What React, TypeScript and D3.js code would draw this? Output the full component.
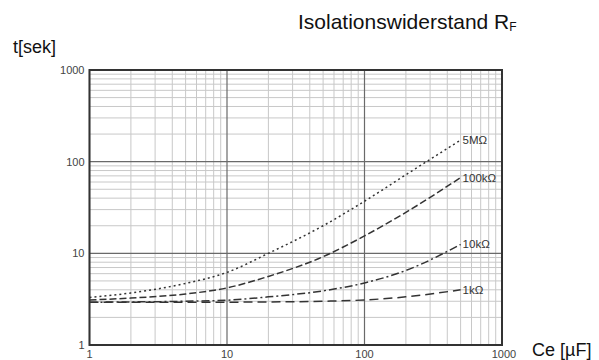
import React from "react";
import * as d3 from "d3";

const capacitance = [1, 2, 5, 10, 20, 50, 100, 200, 500];
const series5M = [3.3, 3.7, 4.7, 6.2, 10, 20, 37, 72, 172];
const series100k = [3.1, 3.25, 3.6, 4.2, 5.6, 9.2, 15.5, 28, 67];
const series10k = [2.93, 2.95, 3.0, 3.08, 3.35, 3.9, 4.75, 6.5, 12.5];
const series1k = [2.93, 2.92, 2.92, 2.93, 2.95, 3.0, 3.1, 3.35, 4.0];
const seriesLabels = ["5MΩ", "100kΩ", "10kΩ", "1kΩ"];
const tickValues = [1, 10, 100, 1000];

const W = 599;
const H = 360;
const left = 89.5;
const right = 502;
const top = 70;
const bottom = 345;

export default function App() {
  const x = d3.scaleLog().domain([1, 1000]).range([left, right]);
  const y = d3.scaleLog().domain([1, 1000]).range([bottom, top]);

  const minors: number[] = [];
  for (let d = 1; d < 1000; d *= 10) {
    for (let k = 2; k <= 9; k++) minors.push(d * k);
  }

  const series = [series5M, series100k, series10k, series1k];
  const dashes = ["2,3", "7,3", "8,3,2,3", "9,5"];

  const line = d3
    .line<[number, number]>()
    .x((d) => x(d[0]))
    .y((d) => y(d[1]))
    .curve(d3.curveMonotoneX);

  const font = "Arial, 'Liberation Sans', sans-serif";

  return (
    <svg
      width={W}
      height={H}
      style={{ position: "absolute", left: 0, top: 0, background: "#fff" }}
      fontFamily={font}
    >
      {minors.map((v) => (
        <g key={"m" + v}>
          <line x1={x(v)} x2={x(v)} y1={top} y2={bottom} stroke="#c8c8c8" strokeWidth={1} />
          <line x1={left} x2={right} y1={y(v)} y2={y(v)} stroke="#c8c8c8" strokeWidth={1} />
        </g>
      ))}
      {tickValues.map((v) => (
        <g key={"M" + v}>
          <line x1={x(v)} x2={x(v)} y1={top} y2={bottom} stroke="#6a6a6a" strokeWidth={1.2} />
          <line x1={left} x2={right} y1={y(v)} y2={y(v)} stroke="#6a6a6a" strokeWidth={1.2} />
        </g>
      ))}
      <rect
        x={left}
        y={top}
        width={right - left}
        height={bottom - top}
        fill="none"
        stroke="#333"
        strokeWidth={2}
      />
      {tickValues.map((v) => (
        <text
          key={"yt" + v}
          x={left - 5}
          y={y(v) + 4}
          textAnchor="end"
          fontSize={11}
          fill="#444"
        >
          {v}
        </text>
      ))}
      {tickValues.map((v) => (
        <text
          key={"xt" + v}
          x={x(v) + (v === 1000 ? 2 : 0)}
          y={bottom + 13}
          textAnchor="middle"
          fontSize={11}
          fill="#444"
        >
          {v}
        </text>
      ))}
      {series.map((s, i) => {
        const pts = capacitance.map((c, j) => [c, s[j]] as [number, number]);
        const last = pts[pts.length - 1];
        return (
          <g key={"s" + i}>
            <path
              d={line(pts) || ""}
              fill="none"
              stroke="#333"
              strokeWidth={1.5}
              strokeDasharray={dashes[i]}
            />
            <text
              x={x(last[0]) + 2}
              y={y(last[1]) + 4}
              fontSize={11.5}
              fill="#333"
            >
              {seriesLabels[i]}
            </text>
          </g>
        );
      })}
      <text x={298} y={29} fontSize={21} fill="#111">
        Isolationswiderstand R
        <tspan fontSize={12} dy={2}>
          F
        </tspan>
      </text>
      <text x={13} y={53} fontSize={18} fill="#111">
        t[sek]
      </text>
      <text x={532} y={356} fontSize={18} fill="#111">
        Ce [µF]
      </text>
    </svg>
  );
}
